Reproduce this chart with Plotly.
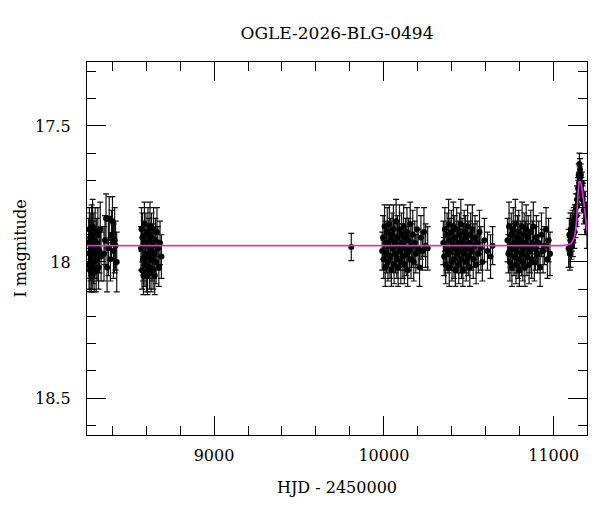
import plotly.graph_objects as go

# ---------------- data ----------------
s1_hjd = [8262, 8264, 8266, 8267, 8269, 8271, 8273, 8275, 8277, 8279, 8281, 8283, 8285, 8287,
          8290, 8292, 8294, 8297, 8300, 8303, 8306, 8309, 8312, 8316, 8320, 8325, 8330, 8335,
          8352, 8358, 8364, 8370, 8378, 8383, 8390, 8396, 8402, 8408, 8415, 8420, 8427]
s1_mag = [17.93, 18.01, 17.88, 17.97, 18.03, 17.91, 17.99, 17.95, 18.04, 17.90, 17.96, 18.02, 17.87, 17.94,
          18.00, 17.92, 18.04, 17.97, 17.89, 17.95, 18.03, 17.93, 17.99, 17.90, 18.02, 17.96, 17.88, 17.98,
          17.97, 17.92, 17.84, 18.02, 17.95, 17.84, 17.99, 17.90, 17.85, 17.96, 17.92, 17.94, 18.00]
s1_err = [0.09, 0.09, 0.08, 0.09, 0.08, 0.09, 0.08, 0.10, 0.07, 0.11, 0.09, 0.08, 0.10, 0.09,
          0.08, 0.10, 0.07, 0.09, 0.09, 0.08, 0.08, 0.09, 0.08, 0.10, 0.08, 0.08, 0.10, 0.09,
          0.10, 0.09, 0.09, 0.09, 0.10, 0.08, 0.08, 0.09, 0.09, 0.10, 0.12, 0.09, 0.11]

s2_hjd = [8570, 8573, 8576, 8578, 8581, 8584, 8587, 8590, 8593, 8596, 8599, 8602, 8605, 8608,
          8611, 8614, 8617, 8620, 8623, 8626, 8629, 8632, 8635, 8638, 8641, 8644, 8647, 8651,
          8655, 8659, 8664, 8669, 8675, 8682, 8690]
s2_mag = [17.95, 17.88, 18.03, 17.91, 17.99, 18.05, 17.93, 17.86, 18.01, 17.97, 17.90, 18.04, 17.94, 18.05,
          17.89, 17.98, 17.92, 18.02, 17.87, 17.96, 18.04, 17.91, 17.99, 17.94, 18.03, 17.88, 17.97, 18.05,
          17.92, 18.00, 17.89, 17.95, 18.02, 17.93, 17.98]
s2_err = [0.08, 0.08, 0.07, 0.09, 0.08, 0.07, 0.08, 0.08, 0.08, 0.09, 0.08, 0.07, 0.08, 0.07,
          0.09, 0.08, 0.08, 0.08, 0.09, 0.08, 0.07, 0.09, 0.08, 0.08, 0.07, 0.08, 0.09, 0.07,
          0.08, 0.08, 0.09, 0.08, 0.07, 0.08, 0.08]

s3_hjd = [9808]
s3_mag = [17.945]
s3_err = [0.05]

s4_hjd = [9990, 9995, 9999, 10004, 10008, 10012, 10016, 10020, 10024, 10028, 10032, 10036, 10040,
          10044, 10048, 10052, 10056, 10060, 10064, 10068, 10072, 10076, 10080, 10084, 10088, 10092,
          10096, 10100, 10104, 10108, 10112, 10116, 10120, 10124, 10128, 10132, 10136, 10140, 10145,
          10150, 10155, 10160, 10165, 10170, 10176, 10182, 10188, 10195, 10202, 10210, 10218, 10227,
          10236, 10246, 10258]
s4_mag = [17.96, 17.91, 17.99, 17.87, 18.02, 17.93, 17.97, 17.89, 18.00, 17.94, 17.86, 17.98, 17.92,
          18.03, 17.90, 17.95, 17.88, 18.01, 17.93, 17.97, 17.85, 17.99, 17.91, 18.02, 17.94, 17.88,
          17.96, 18.00, 17.90, 17.93, 17.98, 17.87, 18.01, 17.95, 17.91, 17.97, 17.89, 18.03, 17.92,
          17.96, 17.86, 17.99, 17.94, 17.90, 18.00, 17.93, 17.97, 17.88, 17.95, 18.02, 17.91, 17.96,
          17.89, 17.94, 17.95]
s4_err = [0.07, 0.08, 0.07, 0.08, 0.07, 0.08, 0.07, 0.09, 0.07, 0.08, 0.07, 0.08, 0.08,
          0.06, 0.08, 0.07, 0.09, 0.07, 0.08, 0.07, 0.08, 0.07, 0.08, 0.07, 0.08, 0.09,
          0.07, 0.08, 0.08, 0.07, 0.08, 0.08, 0.07, 0.08, 0.07, 0.08, 0.09, 0.06, 0.08,
          0.07, 0.08, 0.07, 0.08, 0.09, 0.07, 0.08, 0.07, 0.08, 0.07, 0.07, 0.08, 0.07,
          0.09, 0.08, 0.08]

s5_hjd = [10350, 10355, 10359, 10364, 10368, 10372, 10377, 10381, 10385, 10389, 10393, 10397, 10401,
          10405, 10409, 10413, 10417, 10421, 10425, 10429, 10433, 10437, 10441, 10445, 10449, 10453,
          10457, 10461, 10465, 10469, 10473, 10477, 10481, 10485, 10489, 10493, 10497, 10501, 10506,
          10511, 10516, 10521, 10526, 10531, 10537, 10543, 10549, 10556, 10563, 10571, 10580, 10592,
          10610, 10628, 10640]
s5_mag = [17.93, 17.98, 17.88, 18.01, 17.95, 17.90, 17.97, 17.86, 18.02, 17.92, 17.96, 17.89, 18.00,
          17.94, 17.87, 17.99, 17.91, 18.03, 17.95, 17.88, 17.97, 17.93, 18.01, 17.90, 17.96, 17.86,
          17.99, 17.92, 18.03, 17.94, 17.89, 17.97, 17.91, 18.00, 17.95, 17.87, 17.98, 17.93, 18.02,
          17.90, 17.96, 17.88, 17.99, 17.94, 17.91, 18.01, 17.93, 17.97, 17.89, 17.95, 18.00, 17.92,
          17.96, 17.98, 17.94]
s5_err = [0.08, 0.07, 0.08, 0.07, 0.08, 0.08, 0.07, 0.09, 0.07, 0.08, 0.07, 0.08, 0.07,
          0.08, 0.09, 0.07, 0.08, 0.06, 0.07, 0.08, 0.07, 0.08, 0.07, 0.08, 0.08, 0.09,
          0.07, 0.08, 0.06, 0.08, 0.08, 0.07, 0.08, 0.07, 0.08, 0.08, 0.07, 0.08, 0.07,
          0.08, 0.07, 0.09, 0.07, 0.08, 0.08, 0.07, 0.08, 0.07, 0.08, 0.08, 0.07, 0.08,
          0.07, 0.08, 0.07]

s6_hjd = [10728, 10733, 10737, 10742, 10746, 10750, 10754, 10758, 10762, 10766, 10770, 10774, 10778,
          10782, 10786, 10790, 10794, 10798, 10802, 10806, 10810, 10814, 10818, 10822, 10826, 10830,
          10834, 10838, 10842, 10846, 10850, 10855, 10860, 10865, 10870, 10875, 10880, 10886, 10892,
          10898, 10905, 10912, 10920, 10928, 10937, 10946, 10955, 10963, 10970, 10978]
s6_mag = [17.92, 17.97, 17.87, 18.00, 17.94, 17.90, 18.02, 17.95, 17.88, 17.98, 17.93, 17.86, 18.01,
          17.96, 17.91, 17.99, 17.89, 18.03, 17.94, 17.92, 17.97, 17.87, 18.00, 17.95, 17.90, 18.02,
          17.93, 17.88, 17.98, 17.94, 17.91, 18.01, 17.96, 17.89, 17.99, 17.93, 17.87, 18.00, 17.95,
          17.91, 17.97, 17.93, 18.02, 17.90, 17.96, 17.94, 17.88, 17.99, 17.92, 17.97]
s6_err = [0.08, 0.07, 0.09, 0.07, 0.08, 0.08, 0.07, 0.08, 0.08, 0.07, 0.08, 0.09, 0.07,
          0.08, 0.08, 0.07, 0.08, 0.06, 0.08, 0.07, 0.08, 0.09, 0.07, 0.08, 0.08, 0.07,
          0.08, 0.09, 0.07, 0.08, 0.08, 0.07, 0.08, 0.08, 0.07, 0.08, 0.09, 0.07, 0.08,
          0.08, 0.07, 0.08, 0.07, 0.08, 0.08, 0.07, 0.08, 0.07, 0.08, 0.08]

s7_hjd = [11088, 11092, 11095, 11098, 11101, 11104, 11107, 11110, 11113, 11116, 11119, 11122, 11125,
          11128, 11131, 11134, 11137, 11140, 11143, 11145, 11147, 11149, 11151, 11153, 11155, 11157,
          11160, 11163, 11166, 11170, 11174, 11178, 11182, 11187, 11192, 11196]
s7_mag = [17.95, 17.90, 17.97, 17.92, 17.88, 17.94, 17.90, 17.86, 17.92, 17.88, 17.85, 17.89, 17.84,
          17.86, 17.80, 17.83, 17.77, 17.79, 17.73, 17.75, 17.68, 17.71, 17.64, 17.69, 17.66, 17.72,
          17.68, 17.74, 17.71, 17.77, 17.75, 17.81, 17.79, 17.85, 17.83, 17.89]
s7_err = [0.07, 0.06, 0.06, 0.10, 0.06, 0.05, 0.06, 0.05, 0.06, 0.05, 0.05, 0.06, 0.05,
          0.05, 0.05, 0.04, 0.05, 0.04, 0.04, 0.05, 0.04, 0.04, 0.04, 0.04, 0.04, 0.05,
          0.04, 0.05, 0.04, 0.05, 0.04, 0.05, 0.05, 0.05, 0.05, 0.06]

model_hjd = [8250, 11000, 11060, 11090, 11105, 11118, 11126, 11132, 11137, 11141, 11145, 11148,
             11151, 11154, 11158, 11162, 11166, 11172, 11178, 11184, 11190, 11195, 11198]
model_mag = [17.94, 17.94, 17.939, 17.936, 17.93, 17.915, 17.895, 17.865, 17.82, 17.775, 17.735, 17.712,
             17.70, 17.70, 17.706, 17.715, 17.728, 17.755, 17.785, 17.815, 17.85, 17.88, 17.895]

title_text = "OGLE-2026-BLG-0494"
x_label = "HJD - 2450000"
y_label = "I magnitude"
x_ticks = [9000, 10000, 11000]
y_ticks = [17.5, 18, 18.5]
y_ticklabels = ["17.5", "18", "18.5"]

# ---------------- figure ----------------
hjd = s1_hjd + s2_hjd + s3_hjd + s4_hjd + s5_hjd + s6_hjd + s7_hjd
mag = s1_mag + s2_mag + s3_mag + s4_mag + s5_mag + s6_mag + s7_mag
err = s1_err + s2_err + s3_err + s4_err + s5_err + s6_err + s7_err

FONT = "DejaVu Serif"

fig = go.Figure()
fig.add_trace(go.Scatter(
    x=hjd, y=mag, mode="markers",
    marker=dict(color="black", size=6),
    error_y=dict(type="data", array=err, color="#111111", thickness=1.2, width=3),
    showlegend=False,
))
fig.add_trace(go.Scatter(
    x=model_hjd, y=model_mag, mode="lines",
    line=dict(color="#e030e0", width=1.6, shape="spline", smoothing=0.8),
    showlegend=False,
))

axis_common = dict(
    showline=True, linecolor="black", linewidth=1.4, mirror="ticks",
    ticks="inside", tickcolor="black", tickwidth=1.2, ticklen=19,
    showgrid=False, zeroline=False, automargin=False,
    tickfont=dict(family=FONT, size=16, color="black"),
)

fig.update_xaxes(
    **axis_common,
    range=[8252, 11196],
    tickvals=x_ticks, ticktext=[str(v) for v in x_ticks],
    minor=dict(dtick=200, tick0=0, ticks="inside", ticklen=9, tickcolor="black", tickwidth=1.2, showgrid=False),
    title=dict(text=x_label, font=dict(family=FONT, size=16, color="black"), standoff=17),
    ticklabelstandoff=6,
)
fig.update_yaxes(
    **axis_common,
    range=[18.636, 17.265],
    tickvals=y_ticks, ticktext=y_ticklabels,
    minor=dict(dtick=0.1, tick0=0, ticks="inside", ticklen=9, tickcolor="black", tickwidth=1.2, showgrid=False),
    title=dict(text=y_label, font=dict(family=FONT, size=16, color="black"), standoff=4),
    ticklabelstandoff=12,
)

fig.update_layout(
    width=600, height=512,
    margin=dict(l=87, r=13, t=62, b=77),
    paper_bgcolor="white", plot_bgcolor="white",
    title=dict(text=title_text, x=0.5, xref="paper", xanchor="center",
               y=1 - 33 / 512, yref="container", yanchor="middle",
               font=dict(family=FONT, size=17, color="black")),
)

fig.write_html("out.html", config={"displayModeBar": False},
               post_script="document.body.style.margin='0';")
